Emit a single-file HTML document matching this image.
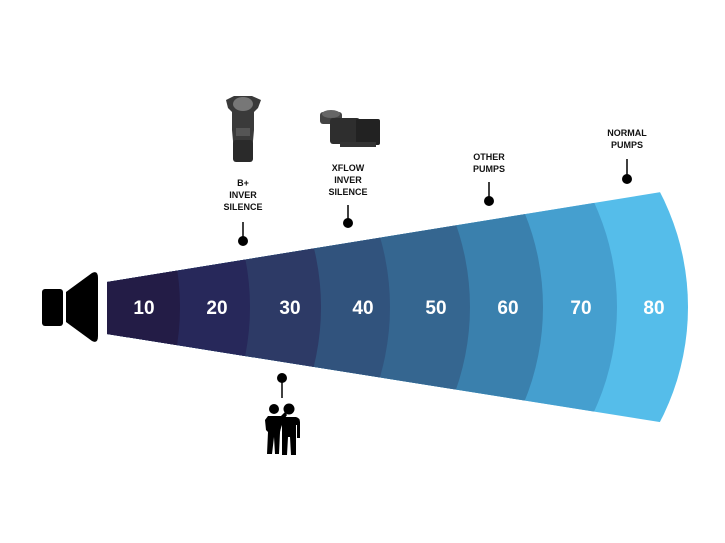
<!DOCTYPE html>
<html><head><meta charset="utf-8"><style>
html,body{margin:0;padding:0;background:#fff;}
svg{display:block;}
text{font-family:"Liberation Sans",sans-serif;font-weight:bold;}
</style></head><body>
<svg width="725" height="543" viewBox="0 0 725 543" xmlns="http://www.w3.org/2000/svg">
<defs>
<clipPath id="cone"><polygon points="107,282 760,176 760,438 107,334"/></clipPath>
</defs>
<g clip-path="url(#cone)">
<circle cx="438" cy="307" r="250" fill="#55bdea"/>
<circle cx="367" cy="307" r="250" fill="#459fcf"/>
<circle cx="293" cy="307" r="250" fill="#3a80ad"/>
<circle cx="220" cy="307" r="250" fill="#356690"/>
<circle cx="140" cy="307" r="250" fill="#31537d"/>
<circle cx="71" cy="307" r="250" fill="#2d3a66"/>
<circle cx="0" cy="307" r="250" fill="#27285a"/>
<circle cx="-70" cy="307" r="250" fill="#231c46"/>
</g>
<g fill="#fff" font-size="19" text-anchor="middle">
<text x="144" y="314">10</text>
<text x="217" y="314">20</text>
<text x="290" y="314">30</text>
<text x="363" y="314">40</text>
<text x="436" y="314">50</text>
<text x="508" y="314">60</text>
<text x="581" y="314">70</text>
<text x="654" y="314">80</text>
</g>
<!-- speaker -->
<rect x="42" y="289" width="21" height="37" rx="3" fill="#000"/>
<path d="M66,292 L92,273 Q98,270 98,278 L98,336 Q98,344 92,341 L66,322 Z" fill="#000"/>
<!-- labels -->
<g fill="#111" font-size="9" text-anchor="middle">
<text x="243" y="186">B+</text><text x="243" y="198">INVER</text><text x="243" y="210">SILENCE</text>
<text x="348" y="171">XFLOW</text><text x="348" y="183">INVER</text><text x="348" y="195">SILENCE</text>
<text x="489" y="160">OTHER</text><text x="489" y="172">PUMPS</text>
<text x="627" y="136">NORMAL</text><text x="627" y="148">PUMPS</text>
</g>
<g stroke="#000" stroke-width="1.5">
<line x1="243" y1="222" x2="243" y2="238"/>
<line x1="348" y1="205" x2="348" y2="220"/>
<line x1="489" y1="182" x2="489" y2="199"/>
<line x1="627" y1="159" x2="627" y2="177"/>
<line x1="282" y1="380" x2="282" y2="398"/>
</g>
<g fill="#000">
<circle cx="243" cy="241" r="5"/>
<circle cx="348" cy="223" r="5"/>
<circle cx="489" cy="201" r="5"/>
<circle cx="627" cy="179" r="5"/>
<circle cx="282" cy="378" r="5"/>
</g>
<!-- pump 1 -->
<g>
<path d="M226,100 L234,96 L252,96 L261,100 L258,108 L254,112 L254,130 L252,152 L234,152 L232,130 L232,112 L228,108 Z" fill="#3a3a3a"/>
<ellipse cx="243" cy="104" rx="10" ry="7" fill="#777"/>
<rect x="233" y="140" width="20" height="22" rx="3" fill="#2a2a2a"/>
<rect x="236" y="128" width="14" height="8" fill="#555"/>
</g>
<!-- pump 2 -->
<g>
<rect x="320" y="112" width="22" height="12" rx="3" fill="#444"/>
<rect x="330" y="118" width="30" height="26" rx="3" fill="#2e2e2e"/>
<rect x="356" y="119" width="24" height="26" rx="2" fill="#222"/>
<rect x="340" y="142" width="36" height="5" fill="#333"/>
<ellipse cx="331" cy="114" rx="9" ry="4" fill="#666"/>
</g>
<!-- people -->
<g fill="#000">
<circle cx="274" cy="409" r="5"/>
<circle cx="289" cy="409" r="5.5"/>
<path d="M268,416 L281,416 L285,412 L287,415 L281,424 L280,432 L279,454 L275,454 L274,437 L272,454 L267,454 L268,432 L266,430 L265,420 Z"/>
<path d="M282,417 L296,417 Q300,418 300,422 L300,438 L297,438 L297,425 L296,425 L296,455 L291,455 L290,437 L288,437 L287,455 L282,455 L282,425 Q280,430 279,438 L278,438 L279,421 Z"/>
</g>
</svg>
</body></html>
